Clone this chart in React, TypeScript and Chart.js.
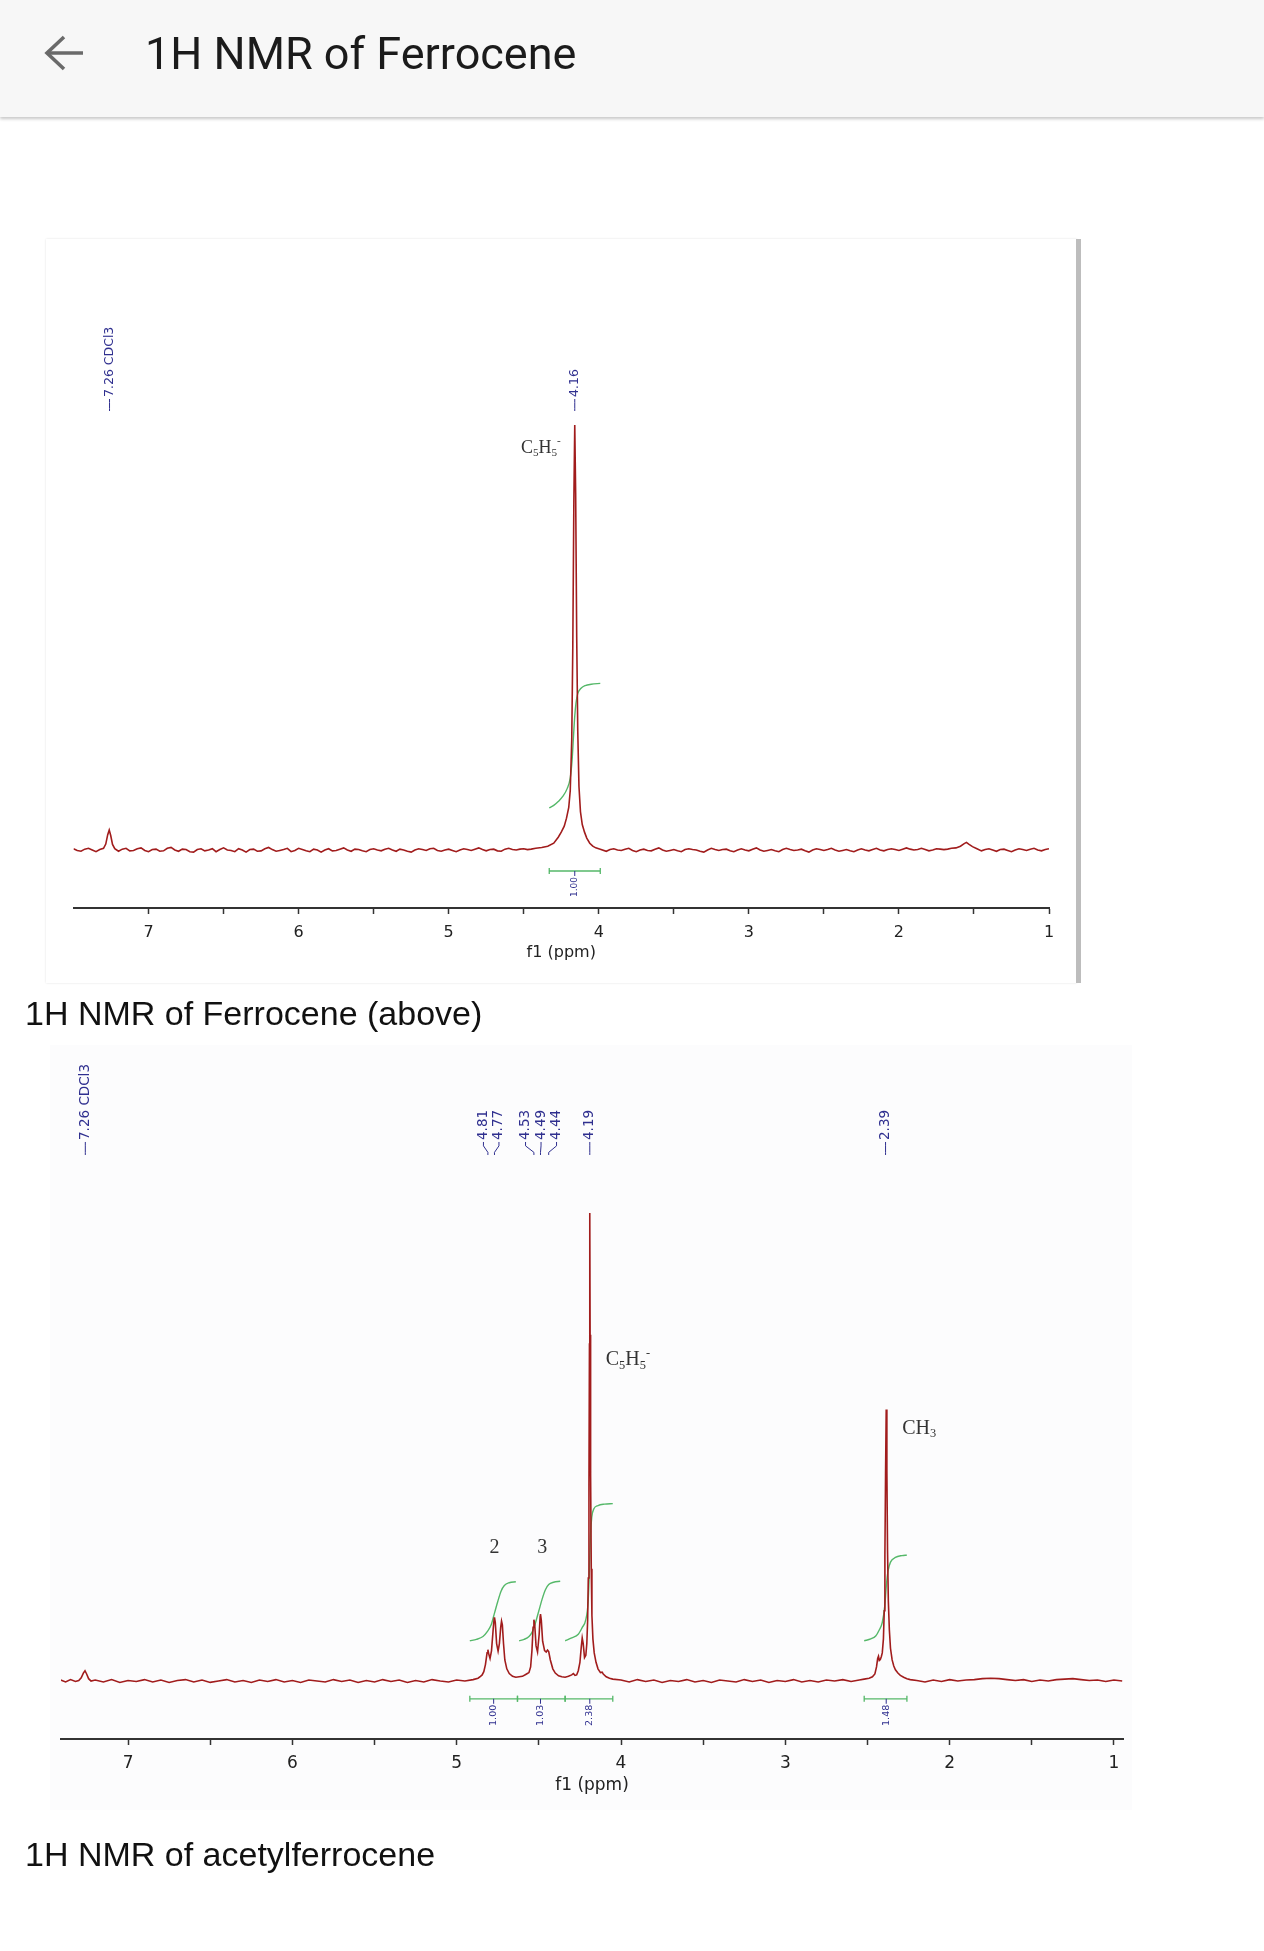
import React, { useEffect, useRef } from "react";
import { Chart, registerables } from "chart.js";

Chart.register(...registerables);

type Pt = [number, number];

// ---------- shared axis ----------
const PPM_TICKS = [7, 6.5, 6, 5.5, 5, 4.5, 4, 3.5, 3, 2.5, 2, 1.5, 1];

// ---------- Ferrocene spectrum (ppm, intensity; 4.16 peak = 100) ----------
const FC_BASE_LEFT: Pt[] = [
  [7.5, 0.3], [7.475, -0.1], [7.45, -0.3], [7.425, 0.2], [7.4, 0.4], [7.375, 0.0], [7.35, -0.4], [7.325, 0.1],
];
const FC_SOLVENT: Pt[] = [
  [7.3, 0.4], [7.285, 1.4], [7.272, 3.6], [7.262, 4.7], [7.252, 3.4], [7.24, 1.3], [7.225, 0.3],
];
const FC_BASE_MID: Pt[] = [
  [7.2, -0.3], [7.175, 0.2], [7.15, 0.4], [7.125, -0.2], [7.1, -0.1], [7.075, 0.3], [7.05, 0.5], [7.025, -0.1],
  [7.0, -0.4], [6.975, 0.1], [6.95, 0.2], [6.925, -0.3], [6.9, -0.2], [6.875, 0.4], [6.85, 0.6], [6.825, 0.0],
  [6.8, -0.3], [6.775, 0.2], [6.75, 0.1], [6.725, -0.4], [6.7, -0.5], [6.675, 0.1], [6.65, 0.3], [6.625, -0.2],
  [6.6, 0.0], [6.575, 0.3], [6.55, -0.4], [6.525, 0.1], [6.5, 0.5], [6.475, 0.0], [6.45, -0.1], [6.425, -0.4],
  [6.4, 0.3], [6.375, 0.0], [6.35, -0.5], [6.325, 0.1], [6.3, 0.2], [6.275, -0.3], [6.25, -0.2], [6.225, 0.3],
  [6.2, 0.6], [6.175, 0.1], [6.15, -0.3], [6.125, -0.1], [6.1, 0.1], [6.075, 0.4], [6.05, -0.4], [6.025, -0.1],
  [6.0, 0.4], [5.975, 0.1], [5.95, -0.2], [5.925, -0.4], [5.9, 0.2], [5.875, 0.0], [5.85, -0.5], [5.825, 0.0],
  [5.8, 0.3], [5.775, -0.2], [5.75, -0.1], [5.725, 0.2], [5.7, 0.5], [5.675, 0.0], [5.65, -0.3], [5.625, 0.2],
  [5.6, 0.1], [5.575, -0.2], [5.55, -0.4], [5.525, 0.1], [5.5, 0.3], [5.475, 0.0], [5.45, -0.2], [5.425, 0.2],
  [5.4, 0.4], [5.375, 0.0], [5.35, -0.3], [5.325, 0.2], [5.3, 0.0], [5.275, -0.3], [5.25, -0.5], [5.225, 0.0],
  [5.2, 0.3], [5.175, 0.1], [5.15, -0.1], [5.125, 0.3], [5.1, 0.4], [5.075, -0.1], [5.05, -0.3], [5.025, 0.0],
  [5.0, 0.2], [4.975, -0.1], [4.95, -0.4], [4.925, 0.0], [4.9, 0.3], [4.875, 0.1], [4.85, -0.1], [4.825, 0.2],
  [4.8, 0.5], [4.775, 0.1], [4.75, -0.2], [4.725, 0.1], [4.7, 0.2], [4.675, -0.2], [4.65, -0.3], [4.625, 0.2],
  [4.6, 0.4], [4.575, 0.1], [4.55, 0.0], [4.525, 0.2], [4.5, 0.3], [4.475, 0.1], [4.45, 0.2],
];
const FC_CP_PEAK: Pt[] = [
  [4.42, 0.4], [4.38, 0.6], [4.34, 0.9], [4.3, 1.6], [4.27, 3.0], [4.25, 4.2], [4.23, 5.6], [4.215, 7.5],
  [4.2, 10], [4.19, 14], [4.18, 26], [4.173, 48], [4.166, 82], [4.16, 100], [4.154, 84], [4.147, 50],
  [4.14, 28], [4.132, 15], [4.122, 9], [4.11, 6], [4.095, 4.2], [4.08, 2.8], [4.06, 1.6], [4.04, 0.9],
  [4.02, 0.5], [3.99, 0.2],
];
const FC_BASE_RIGHT: Pt[] = [
  [3.95, -0.3], [3.925, 0.1], [3.9, 0.3], [3.875, 0.0], [3.85, -0.1], [3.825, 0.2], [3.8, 0.4], [3.775, -0.1],
  [3.75, -0.4], [3.725, 0.0], [3.7, 0.2], [3.675, -0.1], [3.65, -0.2], [3.625, 0.2], [3.6, 0.5], [3.575, 0.0],
  [3.55, -0.3], [3.525, -0.1], [3.5, 0.1], [3.475, -0.2], [3.45, -0.4], [3.425, 0.1], [3.4, 0.3], [3.375, 0.1],
  [3.35, 0.0], [3.325, -0.3], [3.3, -0.5], [3.275, 0.0], [3.25, 0.4], [3.225, 0.1], [3.2, -0.1], [3.175, 0.1],
  [3.15, 0.2], [3.125, -0.2], [3.1, -0.4], [3.075, 0.0], [3.05, 0.3], [3.025, 0.0], [3.0, -0.2], [2.975, 0.2],
  [2.95, 0.5], [2.925, 0.0], [2.9, -0.3], [2.875, -0.1], [2.85, 0.1], [2.825, -0.2], [2.8, -0.4], [2.775, 0.1],
  [2.75, 0.4], [2.725, 0.1], [2.7, -0.1], [2.675, 0.0], [2.65, 0.2], [2.625, -0.2], [2.6, -0.5], [2.575, 0.0],
  [2.55, 0.3], [2.525, 0.1], [2.5, -0.1], [2.475, 0.1], [2.45, 0.4], [2.425, 0.0], [2.4, -0.3], [2.375, -0.1],
  [2.35, 0.1], [2.325, -0.2], [2.3, -0.4], [2.275, 0.0], [2.25, 0.3], [2.225, 0.0], [2.2, -0.2], [2.175, 0.1],
  [2.15, 0.4], [2.125, 0.0], [2.1, -0.2], [2.075, 0.1], [2.05, 0.3], [2.025, 0.1], [2.0, -0.1], [1.975, 0.2],
  [1.95, 0.5], [1.925, 0.2], [1.9, 0.0], [1.875, 0.1], [1.85, 0.4], [1.825, 0.1], [1.8, -0.2], [1.775, 0.0],
  [1.75, 0.3], [1.725, 0.2], [1.7, 0.1], [1.675, 0.2], [1.65, 0.4],
];
const FC_WATER: Pt[] = [
  [1.62, 0.5], [1.59, 0.9], [1.565, 1.5], [1.55, 1.8], [1.535, 1.4], [1.51, 0.8], [1.48, 0.3],
];
const FC_BASE_END: Pt[] = [
  [1.45, -0.2], [1.425, 0.1], [1.4, 0.3], [1.375, 0.0], [1.35, -0.3], [1.325, 0.1], [1.3, 0.2], [1.275, -0.1],
  [1.25, -0.4], [1.225, 0.0], [1.2, 0.3], [1.175, 0.1], [1.15, -0.1], [1.125, 0.2], [1.1, 0.4], [1.075, 0.0],
  [1.05, -0.2], [1.025, 0.1], [1.0, 0.3],
];
const FC_INTEGRAL: Pt[] = [
  [4.33, 9.9], [4.3, 10.5], [4.27, 11.4], [4.24, 12.6], [4.21, 14.5], [4.19, 17], [4.178, 21], [4.168, 27],
  [4.16, 31.5], [4.152, 34.5], [4.14, 36.8], [4.12, 38], [4.09, 38.7], [4.05, 39], [3.99, 39.2],
];
const FC_INT_RANGES: Pt[] = [[4.33, 3.99]];
const FC_INT_LABEL_PPM = [4.16];
const FC_INT_VALUES = ["1.00"];
const FC_PEAK_PPM = [7.26, 4.16];
const FC_PEAK_TEXT = ["7.26 CDCl3", "4.16"];

// ---------- Acetylferrocene spectrum (ppm, intensity; 4.19 peak = 100) ----------
const AF_BASE_LEFT: Pt[] = [[7.41, 0.2], [7.38, -0.2], [7.35, 0.3], [7.32, -0.1]];
const AF_SOLVENT: Pt[] = [
  [7.3, 0.1], [7.285, 0.7], [7.272, 1.7], [7.262, 2.2], [7.252, 1.5], [7.24, 0.5], [7.225, 0.0],
];
const AF_BASE_MID: Pt[] = [
  [7.2, 0.2], [7.15, -0.2], [7.1, 0.3], [7.05, -0.3], [7.0, 0.1], [6.95, -0.1], [6.9, 0.3], [6.85, -0.2],
  [6.8, 0.2], [6.75, -0.3], [6.7, 0.1], [6.65, 0.3], [6.6, -0.2], [6.55, 0.2], [6.5, -0.3], [6.45, 0.0],
  [6.4, 0.3], [6.35, -0.2], [6.3, 0.1], [6.25, -0.3], [6.2, 0.2], [6.15, -0.1], [6.1, 0.3], [6.05, -0.2],
  [6.0, 0.1], [5.95, -0.3], [5.9, 0.2], [5.85, 0.0], [5.8, -0.2], [5.75, 0.3], [5.7, -0.1], [5.65, 0.2],
  [5.6, -0.3], [5.55, 0.1], [5.5, -0.2], [5.45, 0.3], [5.4, -0.1], [5.35, 0.2], [5.3, -0.3], [5.25, 0.1],
  [5.2, -0.2], [5.15, 0.3], [5.1, 0.0], [5.05, -0.2], [5.0, 0.2], [4.95, 0.0],
];
const AF_H2_MULTIPLET: Pt[] = [
  [4.9, 0.3], [4.87, 0.6], [4.855, 1.0], [4.845, 1.3], [4.835, 2.0], [4.825, 3.5], [4.815, 6.0], [4.81, 6.7],
  [4.805, 5.8], [4.797, 4.8], [4.788, 6.5], [4.778, 11], [4.772, 13.4], [4.77, 13.6], [4.765, 12.5],
  [4.757, 8], [4.748, 6.4], [4.74, 8], [4.732, 11.5], [4.727, 12.8], [4.722, 12], [4.715, 8], [4.707, 4.5],
  [4.695, 2.6], [4.68, 1.6], [4.66, 1.0], [4.64, 0.8],
];
const AF_H3_MULTIPLET: Pt[] = [
  [4.62, 0.9], [4.6, 1.0], [4.58, 1.4], [4.57, 1.6], [4.56, 1.8], [4.55, 3.0], [4.542, 6.5], [4.535, 11.5],
  [4.53, 13.1], [4.525, 12], [4.517, 7.5], [4.508, 6.2], [4.498, 10], [4.492, 13.8], [4.49, 14.3],
  [4.485, 13], [4.477, 8.5], [4.465, 6.5], [4.455, 6.2], [4.447, 6.6], [4.44, 6.3], [4.43, 4.5],
  [4.415, 2.6], [4.4, 1.7], [4.38, 1.1], [4.36, 0.9], [4.34, 0.8],
];
const AF_CP_PEAK: Pt[] = [
  [4.32, 1.0], [4.3, 1.3], [4.29, 1.6], [4.28, 1.2], [4.27, 1.3], [4.26, 2.2], [4.25, 4.0], [4.242, 7.2],
  [4.236, 9.2], [4.23, 8.0], [4.222, 5.0], [4.214, 5.5], [4.208, 8], [4.203, 13], [4.199, 22], [4.195, 42],
  [4.192, 72], [4.19, 100], [4.188, 74], [4.185, 44], [4.181, 24], [4.177, 14], [4.171, 9], [4.163, 6],
  [4.152, 4.0], [4.14, 2.6], [4.125, 1.8], [4.115, 1.9], [4.108, 1.5], [4.09, 0.9], [4.07, 0.6], [4.05, 0.4],
];
const AF_BASE_CENTER: Pt[] = [
  [4.0, 0.2], [3.95, -0.2], [3.9, 0.3], [3.85, -0.1], [3.8, 0.2], [3.75, -0.3], [3.7, 0.1], [3.65, -0.1],
  [3.6, 0.3], [3.55, -0.2], [3.5, 0.1], [3.45, -0.3], [3.4, 0.2], [3.35, 0.0], [3.3, -0.2], [3.25, 0.3],
  [3.2, -0.1], [3.15, 0.2], [3.1, -0.3], [3.05, 0.1], [3.0, -0.1], [2.95, 0.3], [2.9, -0.2], [2.85, 0.1],
  [2.8, -0.2], [2.75, 0.2], [2.7, 0.0], [2.65, 0.3], [2.6, -0.1], [2.55, 0.2],
];
const AF_CH3_PEAK: Pt[] = [
  [2.52, 0.4], [2.49, 0.6], [2.47, 0.9], [2.455, 1.5], [2.445, 3], [2.438, 4.8], [2.433, 5.3], [2.428, 4.4],
  [2.422, 4.6], [2.416, 5.2], [2.41, 6], [2.403, 9], [2.398, 15], [2.394, 27], [2.39, 44], [2.386, 58],
  [2.382, 45], [2.378, 28], [2.373, 17], [2.367, 11], [2.36, 7], [2.35, 4.5], [2.34, 3.2], [2.33, 2.4],
  [2.315, 1.7], [2.3, 1.2], [2.28, 0.8], [2.26, 0.5], [2.24, 0.3],
];
const AF_BASE_RIGHT: Pt[] = [
  [2.2, 0.1], [2.15, -0.2], [2.1, 0.2], [2.05, -0.1], [2.0, 0.3], [1.95, 0.0], [1.9, 0.2], [1.85, 0.3],
  [1.8, 0.5], [1.75, 0.6], [1.7, 0.5], [1.65, 0.3], [1.6, 0.1], [1.55, 0.3], [1.5, -0.1], [1.45, 0.2],
  [1.4, 0.0], [1.35, 0.3], [1.3, 0.4], [1.25, 0.5], [1.2, 0.3], [1.15, 0.1], [1.1, 0.2], [1.05, -0.1],
  [1.0, 0.2], [0.95, 0.0],
];
const AF_INT_H2: Pt[] = [
  [4.92, 8.6], [4.88, 8.9], [4.84, 9.5], [4.815, 10.5], [4.79, 12], [4.77, 14.5], [4.75, 17], [4.73, 19.2],
  [4.71, 20.4], [4.68, 21], [4.64, 21.2],
];
const AF_INT_H3: Pt[] = [
  [4.62, 8.6], [4.59, 8.9], [4.56, 9.5], [4.54, 10.5], [4.52, 12.5], [4.5, 15], [4.48, 17.5], [4.46, 19.5],
  [4.44, 20.6], [4.41, 21.1], [4.37, 21.3],
];
const AF_INT_CP: Pt[] = [
  [4.34, 8.6], [4.3, 9.2], [4.26, 10], [4.235, 11.5], [4.215, 13], [4.2, 17], [4.192, 24], [4.186, 31],
  [4.178, 35], [4.165, 36.8], [4.14, 37.5], [4.1, 37.8], [4.05, 37.9],
];
const AF_INT_CH3: Pt[] = [
  [2.52, 8.6], [2.48, 9], [2.45, 9.6], [2.43, 10.8], [2.41, 12.5], [2.395, 16], [2.385, 20.5], [2.375, 23.5],
  [2.36, 25.4], [2.33, 26.4], [2.29, 26.8], [2.26, 26.9],
];
const AF_INT_RANGES: Pt[] = [[4.92, 4.63], [4.63, 4.34], [4.34, 4.05], [2.52, 2.26]];
const AF_INT_LABEL_PPM = [4.775, 4.49, 4.19, 2.386];
const AF_INT_VALUES = ["1.00", "1.03", "2.38", "1.48"];
const AF_PEAK_PPM = [7.26, 4.81, 4.77, 4.53, 4.49, 4.44, 4.19, 2.39];
const AF_PEAK_TEXT = ["7.26 CDCl3", "4.81", "4.77", "4.53", "4.49", "4.44", "4.19", "2.39"];
const AF_GROUP_LABEL_PPM = [4.77, 4.48];
const AF_GROUP_LABEL_TEXT = ["2", "3"];

// formula pieces: [text, 0 normal | -1 subscript | 1 superscript]
const CP_FORMULA: [string, number][] = [["C", 0], ["5", -1], ["H", 0], ["5", -1], ["-", 1]];
const CH3_FORMULA: [string, number][] = [["C", 0], ["H", 0], ["3", -1]];

// ---------- styles ----------
const RED = "#a11c1c";
const GREEN = "#55b869";
const NAVY = "#2f2f8f";
const AXIS = "#333333";

function spreadLabels(xs: number[], gap: number): number[] {
  let cl = xs.map((x) => ({ sum: x, n: 1 }));
  const startOf = (c: { sum: number; n: number }) => c.sum / c.n - ((c.n - 1) * gap) / 2;
  let merged = true;
  while (merged) {
    merged = false;
    for (let i = 0; i < cl.length - 1; i++) {
      if (startOf(cl[i]) + cl[i].n * gap > startOf(cl[i + 1]) + 0.001) {
        cl.splice(i, 2, { sum: cl[i].sum + cl[i + 1].sum, n: cl[i].n + cl[i + 1].n });
        merged = true;
        break;
      }
    }
  }
  const out: number[] = [];
  cl.forEach((c) => {
    const s = startOf(c);
    for (let k = 0; k < c.n; k++) out.push(s + k * gap);
  });
  return out;
}

function drawFormula(
  ctx: CanvasRenderingContext2D,
  parts: [string, number][],
  x: number,
  y: number,
  size: number,
  align: "left" | "right" | "center"
) {
  const fontFor = (k: number) => `${k === 0 ? size : size * 0.62}px "Liberation Serif", "Times New Roman", serif`;
  let total = 0;
  parts.forEach(([t, k]) => {
    ctx.font = fontFor(k);
    total += ctx.measureText(t).width;
  });
  let cx = align === "left" ? x : align === "right" ? x - total : x - total / 2;
  ctx.textAlign = "left";
  ctx.textBaseline = "middle";
  parts.forEach(([t, k]) => {
    ctx.font = fontFor(k);
    const dy = k === -1 ? size * 0.28 : k === 1 ? -size * 0.38 : 0;
    ctx.fillText(t, cx, y + dy);
    cx += ctx.measureText(t).width;
  });
}

type Cfg = {
  left: number;
  top: number;
  width: number;
  height: number;
  xMin: number;
  xMax: number;
  yMin: number;
  yMax: number;
  pad: { left: number; right: number; top: number; bottom: number };
  axisHeight: number;
  tickFont: number;
  tickPad: number;
  titleFont: number;
  titlePadBottom: number;
  spectrum: Pt[];
  integrals: Pt[][];
  intRanges: Pt[];
  intLabelPpm: number[];
  intValues: string[];
  bracketY: number;
  intFont: number;
  peakPpm: number[];
  peakText: string[];
  peakBase: number;
  peakFont: number;
  connector: number;
  labelGap: number;
  draw: (ctx: CanvasRenderingContext2D, xs: any, ys: any) => void;
};

function makeAnnotations(cfg: Cfg) {
  return {
    id: "nmrAnnotations",
    afterDatasetsDraw(chart: any) {
      const ctx: CanvasRenderingContext2D = chart.ctx;
      const xs = chart.scales.x;
      const ys = chart.scales.y;
      ctx.save();
      // integral brackets
      const by = ys.getPixelForValue(cfg.bracketY);
      ctx.strokeStyle = GREEN;
      ctx.lineWidth = 1.3;
      cfg.intRanges.forEach(([a, b]) => {
        const xa = xs.getPixelForValue(a);
        const xb = xs.getPixelForValue(b);
        ctx.beginPath();
        ctx.moveTo(xa, by);
        ctx.lineTo(xb, by);
        ctx.moveTo(xa, by - 3);
        ctx.lineTo(xa, by + 3);
        ctx.moveTo(xb, by - 3);
        ctx.lineTo(xb, by + 3);
        ctx.stroke();
      });
      ctx.fillStyle = NAVY;
      ctx.strokeStyle = NAVY;
      ctx.lineWidth = 1;
      ctx.font = `${cfg.intFont}px "DejaVu Sans", sans-serif`;
      cfg.intLabelPpm.forEach((p, i) => {
        const x = xs.getPixelForValue(p);
        ctx.beginPath();
        ctx.moveTo(x, by);
        ctx.lineTo(x, by + 5);
        ctx.stroke();
        ctx.save();
        ctx.translate(x, by + 6);
        ctx.rotate(-Math.PI / 2);
        ctx.textAlign = "right";
        ctx.textBaseline = "middle";
        ctx.fillText(cfg.intValues[i], 0, 0);
        ctx.restore();
      });
      // peak labels
      const base = ys.getPixelForValue(cfg.peakBase);
      const desired = cfg.peakPpm.map((p) => xs.getPixelForValue(p));
      const order = desired.map((_, i) => i).sort((a, b) => desired[a] - desired[b]);
      const placed = spreadLabels(order.map((i) => desired[i]), cfg.labelGap);
      ctx.font = `${cfg.peakFont}px "DejaVu Sans", sans-serif`;
      ctx.lineWidth = 1;
      order.forEach((idx, k) => {
        const px = desired[idx];
        const lx = placed[k];
        const L = cfg.connector;
        ctx.beginPath();
        ctx.moveTo(px, base);
        ctx.lineTo(px, base - L * 0.2);
        ctx.lineTo(lx, base - L * 0.7);
        ctx.lineTo(lx, base - L);
        ctx.stroke();
        ctx.save();
        ctx.translate(lx, base - L - 2);
        ctx.rotate(-Math.PI / 2);
        ctx.textAlign = "left";
        ctx.textBaseline = "middle";
        ctx.fillText(cfg.peakText[idx], 0, 0);
        ctx.restore();
      });
      // assignments
      ctx.fillStyle = "#333333";
      cfg.draw(ctx, xs, ys);
      ctx.restore();
    },
  };
}

function buildChart(canvas: HTMLCanvasElement, cfg: Cfg) {
  const datasets: any[] = [
    {
      data: cfg.spectrum.map(([x, y]) => ({ x, y })),
      borderColor: RED,
      borderWidth: 1.6,
      pointRadius: 0,
      tension: 0,
      fill: false,
    },
    ...cfg.integrals.map((seg) => ({
      data: seg.map(([x, y]) => ({ x, y })),
      borderColor: GREEN,
      borderWidth: 1.4,
      pointRadius: 0,
      cubicInterpolationMode: "monotone",
      fill: false,
    })),
  ];
  return new Chart(canvas, {
    type: "line",
    data: { datasets },
    plugins: [makeAnnotations(cfg)],
    options: {
      animation: false,
      responsive: false,
      devicePixelRatio: 1,
      events: [],
      layout: { padding: cfg.pad },
      plugins: { legend: { display: false }, tooltip: { enabled: false } },
      scales: {
        x: {
          type: "linear",
          reverse: true,
          min: cfg.xMin,
          max: cfg.xMax,
          afterBuildTicks: (axis: any) => {
            axis.ticks = PPM_TICKS.map((v) => ({ value: v }));
          },
          afterFit: (axis: any) => {
            axis.height = cfg.axisHeight;
          },
          ticks: {
            autoSkip: false,
            maxRotation: 0,
            padding: cfg.tickPad,
            color: "#222222",
            font: { family: '"DejaVu Sans", sans-serif', size: cfg.tickFont },
            callback: (v: any) => (Number.isInteger(v) ? String(v) : ""),
          },
          grid: {
            display: true,
            drawOnChartArea: false,
            drawTicks: true,
            tickLength: 6,
            tickColor: AXIS,
            tickWidth: 1.5,
          },
          border: { display: true, color: AXIS, width: 2 },
          title: {
            display: true,
            text: "f1 (ppm)",
            color: "#222222",
            font: { family: '"DejaVu Sans", sans-serif', size: cfg.titleFont },
            padding: { top: 0, bottom: cfg.titlePadBottom },
          },
        },
        y: { type: "linear", display: false, min: cfg.yMin, max: cfg.yMax },
      },
    } as any,
  });
}

const FERROCENE_CFG: Cfg = {
  left: 46,
  top: 239,
  width: 1031,
  height: 744,
  xMin: 1.0,
  xMax: 7.5,
  yMin: -13.647,
  yMax: 129.65,
  pad: { left: 27.5, right: 28, top: 60, bottom: 0 },
  axisHeight: 75,
  tickFont: 16,
  tickPad: 9.4,
  titleFont: 16,
  titlePadBottom: 21,
  spectrum: [...FC_BASE_LEFT, ...FC_SOLVENT, ...FC_BASE_MID, ...FC_CP_PEAK, ...FC_BASE_RIGHT, ...FC_WATER, ...FC_BASE_END],
  integrals: [FC_INTEGRAL],
  intRanges: FC_INT_RANGES,
  intLabelPpm: FC_INT_LABEL_PPM,
  intValues: FC_INT_VALUES,
  bracketY: -4.94,
  intFont: 9,
  peakPpm: FC_PEAK_PPM,
  peakText: FC_PEAK_TEXT,
  peakBase: 103.3,
  peakFont: 12.5,
  connector: 12,
  labelGap: 15,
  draw: (ctx, xs, ys) => {
    drawFormula(ctx, CP_FORMULA, xs.getPixelForValue(4.16) - 14, ys.getPixelForValue(94.6), 18, "right");
  },
};

const ACETYL_CFG: Cfg = {
  left: 50,
  top: 1045,
  width: 1082,
  height: 765,
  xMin: 0.945,
  xMax: 7.408,
  yMin: -12.393,
  yMax: 128.42,
  pad: { left: 11, right: 9, top: 35, bottom: 0 },
  axisHeight: 71,
  tickFont: 17,
  tickPad: 8.8,
  titleFont: 17,
  titlePadBottom: 13.8,
  spectrum: [
    ...AF_BASE_LEFT, ...AF_SOLVENT, ...AF_BASE_MID, ...AF_H2_MULTIPLET, ...AF_H3_MULTIPLET,
    ...AF_CP_PEAK, ...AF_BASE_CENTER, ...AF_CH3_PEAK, ...AF_BASE_RIGHT,
  ],
  integrals: [AF_INT_H2, AF_INT_H3, AF_INT_CP, AF_INT_CH3],
  intRanges: AF_INT_RANGES,
  intLabelPpm: AF_INT_LABEL_PPM,
  intValues: AF_INT_VALUES,
  bracketY: -3.8,
  intFont: 9.5,
  peakPpm: AF_PEAK_PPM,
  peakText: AF_PEAK_TEXT,
  peakBase: 112.4,
  peakFont: 13.5,
  connector: 13,
  labelGap: 15.5,
  draw: (ctx, xs, ys) => {
    drawFormula(ctx, CP_FORMULA, xs.getPixelForValue(4.19) + 16, ys.getPixelForValue(68.6), 20, "left");
    drawFormula(ctx, CH3_FORMULA, xs.getPixelForValue(2.386) + 16, ys.getPixelForValue(54), 20, "left");
    AF_GROUP_LABEL_PPM.forEach((p, i) => {
      drawFormula(ctx, [[AF_GROUP_LABEL_TEXT[i], 0]], xs.getPixelForValue(p), ys.getPixelForValue(28.4), 20, "center");
    });
  },
};

function NmrChart({ cfg }: { cfg: Cfg }) {
  const ref = useRef<HTMLCanvasElement | null>(null);
  useEffect(() => {
    if (!ref.current) return;
    const chart = buildChart(ref.current, cfg);
    return () => chart.destroy();
  }, [cfg]);
  return (
    <canvas
      ref={ref}
      width={cfg.width}
      height={cfg.height}
      style={{ position: "absolute", left: cfg.left, top: cfg.top, width: cfg.width, height: cfg.height }}
    />
  );
}

export default function App() {
  return (
    <div style={{ position: "relative" }}>
      <div
        style={{
          position: "absolute",
          left: -8,
          top: -8,
          width: 1264,
          height: 1951,
          background: "#ffffff",
        }}
      />
      {/* app bar */}
      <div
        style={{
          position: "fixed",
          left: 0,
          top: 0,
          width: 1264,
          height: 117,
          background: "#f7f7f7",
          boxShadow: "0 2px 3px rgba(0,0,0,0.22)",
        }}
      >
        <svg width={60} height={60} style={{ position: "absolute", left: 38, top: 23 }} viewBox="0 0 60 60">
          <polyline points="26,14 9,30 26,46" fill="none" stroke="#6a6a6a" strokeWidth={3.6} strokeLinejoin="miter" />
          <line x1={9} y1={30} x2={45} y2={30} stroke="#6a6a6a" strokeWidth={3.6} />
        </svg>
        <div
          style={{
            position: "absolute",
            left: 145,
            top: 24,
            fontFamily: "Roboto, sans-serif",
            fontSize: 45,
            lineHeight: "60px",
            color: "#1b1b1b",
            whiteSpace: "nowrap",
          }}
        >
          1H NMR of Ferrocene
        </div>
      </div>

      {/* first spectrum card */}
      <div
        style={{
          position: "fixed",
          left: 46,
          top: 239,
          width: 1031,
          height: 744,
          background: "#ffffff",
          boxShadow: "0 0 2px rgba(0,0,0,0.12)",
        }}
      />
      <div style={{ position: "fixed", left: 1076, top: 239, width: 5, height: 744, background: "#bdbdbd" }} />
      <div style={{ position: "fixed", left: 0, top: 0 }}>
        <NmrChart cfg={FERROCENE_CFG} />
      </div>
      <div
        style={{
          position: "fixed",
          left: 25,
          top: 993,
          fontFamily: '"Liberation Sans", Arial, sans-serif',
          fontSize: 34,
          lineHeight: "40px",
          color: "#111111",
          whiteSpace: "nowrap",
        }}
      >
        1H NMR of Ferrocene (above)
      </div>

      {/* second spectrum card */}
      <div
        style={{
          position: "fixed",
          left: 50,
          top: 1045,
          width: 1082,
          height: 765,
          background: "#fcfcfd",
        }}
      />
      <div style={{ position: "fixed", left: 0, top: 0 }}>
        <NmrChart cfg={ACETYL_CFG} />
      </div>
      <div
        style={{
          position: "fixed",
          left: 25,
          top: 1834,
          fontFamily: '"Liberation Sans", Arial, sans-serif',
          fontSize: 34,
          lineHeight: "40px",
          color: "#111111",
          whiteSpace: "nowrap",
        }}
      >
        1H NMR of acetylferrocene
      </div>
    </div>
  );
}
